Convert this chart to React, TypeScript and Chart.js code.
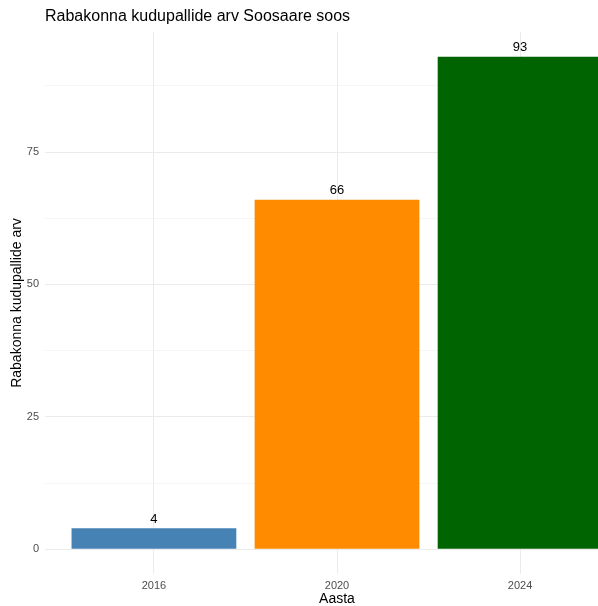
import React, { useEffect, useRef } from "react";
import { Chart, registerables } from "chart.js";

Chart.register(...registerables);

const years = [2016, 2020, 2024];
const counts = [4, 66, 93];
const barColors = ["#4682B4", "#FF8C00", "#006400"];
const yTickValues = [0, 12.5, 25, 37.5, 50, 62.5, 75, 87.5];
const yLabelValues = [0, 25, 50, 75];
const xTickValues = [2016, 2020, 2024];

const titleText = "Rabakonna kudupallide arv Soosaare soos";
const yTitle = "Rabakonna kudupallide arv";
const xTitle = "Aasta";

const FONT = "'Liberation Sans', Arial, sans-serif";

const labelPlugin = {
  id: "labelsAndTitle",
  afterDatasetsDraw(chart: any) {
    const ctx = chart.ctx;
    const meta = chart.getDatasetMeta(0);
    ctx.save();
    ctx.fillStyle = "#000000";
    ctx.font = `13px ${FONT}`;
    ctx.textAlign = "center";
    ctx.textBaseline = "middle";
    meta.data.forEach((el: any, i: number) => {
      ctx.fillText(String(counts[i]), el.x, el.y - 9);
    });
    ctx.font = `16px ${FONT}`;
    ctx.textAlign = "left";
    ctx.fillText(titleText, chart.chartArea.left, 17);
    ctx.restore();
  },
};

export default function App() {
  const ref = useRef<HTMLCanvasElement | null>(null);
  useEffect(() => {
    document.body.style.margin = "0";
    const ymin = 0 - Math.max(...counts) * 0.05;
    const ymax = Math.max(...counts) * 1.05;
    const xspan = (years[years.length - 1] + 1.8) - (years[0] - 1.8);
    const xmin = years[0] - 1.8 - xspan * 0.05;
    const xmax = years[years.length - 1] + 1.8 + xspan * 0.05;
    const chart = new Chart(ref.current!, {
      type: "bar",
      data: {
        datasets: [
          {
            data: years.map((y, i) => ({ x: y, y: counts[i] })),
            backgroundColor: barColors,
            borderWidth: 0,
            barPercentage: 0.9,
            categoryPercentage: 1,
          },
        ],
      },
      options: {
        animation: false,
        responsive: false,
        devicePixelRatio: 1,
        layout: { padding: { top: 32, right: 5, bottom: 0, left: 0 } },
        plugins: { legend: { display: false }, tooltip: { enabled: false }, title: { display: false } },
        scales: {
          x: {
            type: "linear",
            min: xmin,
            max: xmax,
            offset: false,
            afterBuildTicks: (axis: any) => {
              axis.ticks = xTickValues.map((v) => ({ value: v }));
            },
            afterFit: (axis: any) => {
              axis.height = 32;
            },
            grid: { color: "#EBEBEB", lineWidth: 1, drawTicks: false, offset: false },
            border: { display: false },
            ticks: {
              padding: 5,
              color: "#4D4D4D",
              font: { family: FONT, size: 11 },
              callback: (v: any) => String(v),
              maxRotation: 0,
            },
            title: {
              display: true,
              text: xTitle,
              color: "#000000",
              font: { family: FONT, size: 14, lineHeight: 1 },
              padding: { top: 0, bottom: 0 },
            },
          },
          y: {
            type: "linear",
            min: ymin,
            max: ymax,
            afterBuildTicks: (axis: any) => {
              axis.ticks = yTickValues.map((v) => ({ value: v }));
            },
            afterFit: (axis: any) => {
              axis.width = 45;
            },
            grid: {
              color: (c: any) => (yLabelValues.includes(c.tick?.value) ? "#EBEBEB" : "#F2F2F2"),
              lineWidth: (c: any) => (yLabelValues.includes(c.tick?.value) ? 1 : 0.8),
              drawTicks: false,
            },
            border: { display: false },
            ticks: {
              padding: 6,
              color: "#4D4D4D",
              font: { family: FONT, size: 11 },
              callback: (v: any) => (yLabelValues.includes(v) ? String(v) : ""),
            },
            title: {
              display: true,
              text: yTitle,
              color: "#000000",
              font: { family: FONT, size: 14, lineHeight: 1.2 },
              padding: { top: 9, bottom: 0 },
            },
          },
        },
      },
      plugins: [labelPlugin],
    });
    return () => chart.destroy();
  }, []);
  return (
    <div style={{ position: "absolute", left: 0, top: 0, width: 598, height: 606, overflow: "hidden", background: "#fff" }}>
      <canvas ref={ref} width={634} height={606} style={{ width: 634, height: 606, display: "block" }} />
    </div>
  );
}
